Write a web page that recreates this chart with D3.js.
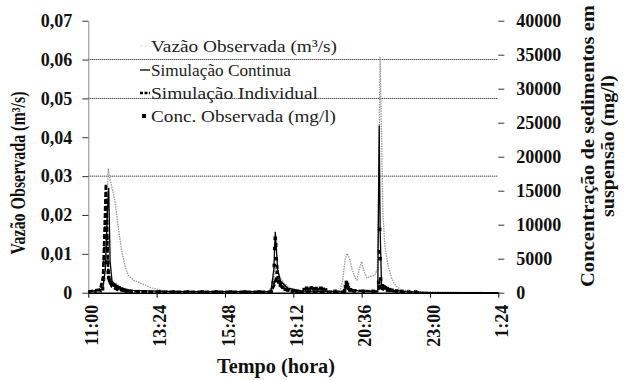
<!DOCTYPE html>
<html>
<head>
<meta charset="utf-8">
<script src="https://cdn.jsdelivr.net/npm/d3@7"></script>
</head>
<body style="margin:0; background:#fff">
<div id="chart-wrapper"></div>
<script>
// Axis ticks
const leftTicks = [0, 0.01, 0.02, 0.03, 0.04, 0.05, 0.06, 0.07];
const rightTicks = [0, 5000, 10000, 15000, 20000, 25000, 30000, 35000, 40000];
const xTickLabels = ["11:00", "13:24", "15:48", "18:12", "20:36", "23:00", "1:24"];
const gridValues = [0.03, 0.05, 0.06];

// Vazão Observada (m3/s)
const flowTimes = ["11:00", "11:20", "11:28", "11:33", "11:38", "11:42", "11:46", "11:50", "11:56", "12:03",
  "12:10", "12:17", "12:24", "12:35", "12:49", "13:14", "13:42", "14:30", "16:00", "17:20",
  "17:28", "17:34", "17:38", "17:44", "17:52", "18:05", "18:30", "19:30", "19:50", "19:56",
  "20:01", "20:05", "20:10", "20:16", "20:22", "20:26", "20:31", "20:36", "20:41", "20:47",
  "20:55", "21:04", "21:09", "21:12", "21:15", "21:18", "21:21", "21:25", "21:32", "21:40",
  "21:48", "21:58", "22:20", "23:00", "1:24"];
const flowValues = [0, 0.0003, 0.0005, 0.002, 0.016, 0.032, 0.029, 0.027, 0.0238, 0.017,
  0.011, 0.007, 0.0045, 0.0032, 0.0025, 0.0012, 0.0004, 0.0003, 0.0003, 0.0003,
  0.002, 0.0065, 0.006, 0.004, 0.0025, 0.0012, 0.0005, 0.0004, 0.0005, 0.003,
  0.0085, 0.0101, 0.009, 0.006, 0.004, 0.0033, 0.006, 0.008, 0.0055, 0.0038,
  0.0042, 0.0045, 0.006, 0.03, 0.0607, 0.04, 0.02, 0.012, 0.0067, 0.0035,
  0.0018, 0.0008, 0.0003, 0.0002, 0];

// Simulação Continua (m3/s)
const contTimes = ["11:00", "11:30", "11:36", "11:40", "11:43", "11:46", "11:50", "12:00", "12:30", "14:00",
  "17:25", "17:31", "17:34", "17:36", "17:39", "17:45", "18:00", "18:30", "20:00", "20:04",
  "20:08", "20:30", "21:10", "21:13", "21:15", "21:18", "21:25", "21:45", "22:10", "23:00", "1:24"];
const contValues = [0.0002, 0.0008, 0.006, 0.02, 0.027, 0.008, 0.003, 0.0015, 0.0006, 0.0003,
  0.0003, 0.006, 0.0157, 0.012, 0.006, 0.003, 0.0012, 0.0004, 0.0003, 0.0025,
  0.0012, 0.0004, 0.0003, 0.043, 0.016, 0.0015, 0.0012, 0.0006, 0.0003, 0, 0];

// Simulação Individual (m3/s)
const indivTimes = ["11:00", "11:25", "11:31", "11:34", "11:37", "11:39", "11:41", "11:44", "11:50", "12:00",
  "12:20", "13:00", "17:25", "17:32", "17:36", "17:42", "17:55", "18:30", "20:00", "20:04",
  "20:10", "21:10", "21:14", "21:18", "21:30", "22:00", "22:40"];
const indivValues = [0.0003, 0.0008, 0.004, 0.015, 0.028, 0.022, 0.008, 0.003, 0.0015, 0.0008,
  0.0004, 0.0002, 0.0002, 0.002, 0.004, 0.002, 0.0008, 0.0002, 0.0002, 0.0022,
  0.0006, 0.0003, 0.002, 0.001, 0.0005, 0.0002, 0];

// Conc. Observada (mg/l)
const concTimes = ["11:05", "11:15", "11:25", "11:30", "11:32", "11:34", "11:35", "11:36", "11:37", "11:38",
  "11:39", "11:40", "11:41", "11:42", "11:43", "11:45", "11:47", "11:50", "11:53", "11:56",
  "12:00", "12:05", "12:10", "12:15", "12:20", "12:30", "12:45", "13:00", "13:30", "14:00",
  "14:30", "15:00", "15:30", "16:00", "16:30", "17:00", "17:25", "17:30", "17:32", "17:33",
  "17:34", "17:35", "17:36", "17:37", "17:38", "17:40", "17:42", "17:45", "17:50", "17:55",
  "18:00", "18:10", "18:20", "18:35", "18:40", "18:45", "18:50", "18:55", "19:00", "19:05",
  "19:10", "19:15", "19:20", "19:40", "20:00", "20:02", "20:04", "20:06", "20:08", "20:12",
  "20:20", "20:40", "21:00", "21:12", "21:13", "21:14", "21:15", "21:16", "21:18", "21:20",
  "21:23", "21:26", "21:30", "21:35", "21:40", "21:50", "22:00", "22:15", "22:30"];
const concValues = [100, 150, 300, 600, 2000, 4500, 6500, 8200, 9500, 9200,
  8000, 6500, 4500, 3000, 2200, 1800, 1500, 1300, 1200, 1100,
  900, 700, 500, 350, 250, 200, 150, 120, 100, 100,
  100, 100, 100, 100, 100, 100, 200, 1500, 4000, 6500,
  8000, 7000, 5000, 3800, 3000, 2200, 1600, 1200, 800, 500,
  400, 250, 200, 450, 650, 500, 700, 550, 600, 450,
  650, 500, 400, 200, 300, 900, 1500, 1200, 700, 400,
  250, 200, 200, 1500, 6000, 9300, 5000, 2000, 900, 1000,
  850, 700, 600, 450, 350, 250, 200, 150, 100];

// Minutes since 11:00 (times before 11:00 belong to the next day)
const toMin = s => {
  const [h, m] = s.split(":").map(Number);
  let v = h * 60 + m - 660;
  return v < 0 ? v + 1440 : v;
};

const initChart = () => {
  const fullWidth = 629, fullHeight = 380;
  const left = 88.3, right = 498.3, top = 20.7, bottom = 292.7;

  const svg = d3.select("#chart-wrapper").append("svg")
    .attr("width", fullWidth)
    .attr("height", fullHeight)
    .style("display", "block");

  const xScale = d3.scaleLinear().domain([0, 864]).range([left, right]);
  const yLeft = d3.scaleLinear().domain([0, 0.07]).range([bottom, top]);
  const yRight = d3.scaleLinear().domain([0, 40000]).range([bottom, top]);

  // dotted grid lines
  svg.append("g").selectAll("line")
    .data(gridValues)
    .enter().append("line")
    .attr("x1", left).attr("x2", right)
    .attr("y1", d => yLeft(d)).attr("y2", d => yLeft(d))
    .attr("stroke", "#000").attr("stroke-width", 1)
    .attr("stroke-dasharray", "1,1");

  // left axis
  const leftAxis = svg.append("g")
    .attr("transform", `translate(${left},0)`)
    .call(d3.axisLeft(yLeft).tickValues(leftTicks).tickSize(6).tickSizeOuter(0).tickPadding(10)
      .tickFormat(d => d === 0 ? "0" : d3.format(".2f")(d).replace(".", ",")));
  leftAxis.select(".domain").attr("stroke", "#888");
  leftAxis.selectAll(".tick line").attr("stroke", "#333");

  // right axis
  const rightAxis = svg.append("g")
    .attr("transform", `translate(${right},0)`)
    .call(d3.axisRight(yRight).tickValues(rightTicks).tickSize(6).tickSizeOuter(0).tickPadding(12)
      .tickFormat(d3.format("d")));
  rightAxis.select(".domain").remove();
  rightAxis.selectAll(".tick line").attr("stroke", "#333");

  // data lines
  const series = [
    { t: flowTimes, v: flowValues, color: "#9a9a9a", width: 1.3, dash: "1.5,1" },
    { t: contTimes, v: contValues, color: "#000", width: 1.3, dash: null },
    { t: indivTimes, v: indivValues, color: "#000", width: 2.6, dash: "5,2" }
  ];

  const line = d3.line()
    .x(d => xScale(d[0]))
    .y(d => yLeft(d[1]));

  // observed concentration markers
  const concData = concTimes.map((t, i) => [toMin(t), concValues[i]]);
  svg.append("g").selectAll("rect")
    .data(concData)
    .enter().append("rect")
    .attr("x", d => xScale(d[0]) - 1.8)
    .attr("y", d => yRight(d[1]) - 1.8)
    .attr("width", 3.6)
    .attr("height", 3.6)
    .attr("fill", "#000");

  series.forEach(s => {
    svg.append("path")
      .datum(s.t.map((t, i) => [toMin(t), s.v[i]]))
      .attr("d", line)
      .attr("fill", "none")
      .attr("stroke", s.color)
      .attr("stroke-width", s.width)
      .attr("stroke-dasharray", s.dash);
  });

  // bottom axis
  const xAxis = svg.append("g")
    .attr("transform", `translate(0,${bottom})`)
    .call(d3.axisBottom(xScale).tickValues(xTickLabels.map(toMin)).tickSize(5).tickSizeOuter(0)
      .tickFormat((d, i) => xTickLabels[i]));
  xAxis.select(".domain").attr("stroke", "#000").attr("stroke-width", 1.5);
  xAxis.selectAll(".tick line").attr("stroke", "#000");
  xAxis.selectAll("text")
    .attr("transform", "rotate(-90)")
    .attr("text-anchor", "end")
    .attr("x", -12)
    .attr("y", 3)
    .attr("dy", "0.35em");

  // tick label font
  [leftAxis, rightAxis, xAxis].forEach(a => {
    a.attr("font-family", null).attr("font-size", null);
    a.selectAll("text")
      .style("font-family", "'Liberation Serif'")
      .style("font-weight", "bold")
      .style("font-size", "18px")
      .attr("fill", "#111");
  });

  // axis titles
  const title = (tf, len, size, txt) => svg.append("text")
    .attr("transform", tf)
    .attr("text-anchor", "middle")
    .style("font-family", "'Liberation Serif'")
    .style("font-weight", "bold")
    .style("font-size", size + "px")
    .attr("fill", "#111")
    .attr("textLength", len).attr("lengthAdjust", "spacingAndGlyphs")
    .text(txt);

  title("translate(25,173) rotate(-90)", 163, 20, "Vazão Observada (m³/s)");
  title("translate(594,146) rotate(-90)", 282, 19, "Concentração de sedimentos em");
  title("translate(614,146) rotate(-90)", 142, 19, "suspensão (mg/l)");
  title("translate(276,373)", 118, 20, "Tempo (hora)");

  // legend
  const legendItems = [
    { label: "Vazão Observada (m³/s)", y: 46, len: 186, kind: "flow" },
    { label: "Simulação Continua", y: 70, len: 140, kind: "cont" },
    { label: "Simulação Individual", y: 93, len: 167, kind: "indiv" },
    { label: "Conc. Observada (mg/l)", y: 116, len: 185, kind: "conc" }
  ];
  const legend = svg.append("g");
  legendItems.forEach(d => {
    if (d.kind === "conc") {
      legend.append("rect").attr("x", 142).attr("y", d.y - 2).attr("width", 4).attr("height", 4).attr("fill", "#000");
    } else {
      const s = d.kind === "flow" ? series[0] : d.kind === "cont" ? series[1] : series[2];
      legend.append("line")
        .attr("x1", 140).attr("x2", 150).attr("y1", d.y).attr("y2", d.y)
        .attr("stroke", d.kind === "flow" ? "#eee" : s.color)
        .attr("stroke-width", s.width)
        .attr("stroke-dasharray", s.dash ? "3,1.5" : null);
    }
    legend.append("text")
      .attr("x", 151).attr("y", d.y).attr("dy", "0.35em")
      .style("font-family", "'Liberation Serif'")
      .style("font-size", "17px")
      .attr("fill", "#222")
      .attr("textLength", d.len).attr("lengthAdjust", "spacingAndGlyphs")
      .text(d.label);
  });
};

window.onload = () => {
  initChart();
};
</script>
</body>
</html>
